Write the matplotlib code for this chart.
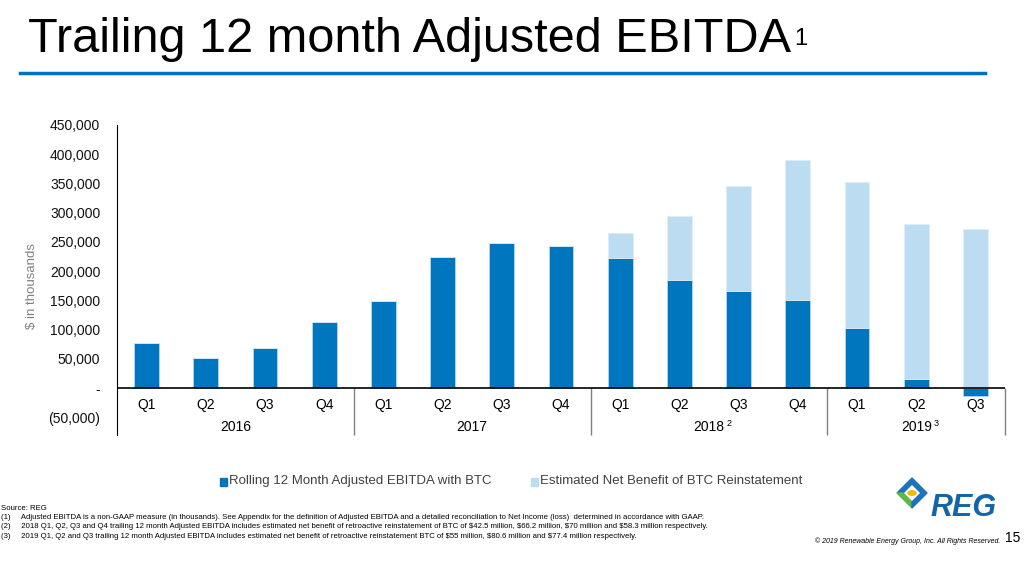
import numpy as np
import matplotlib.pyplot as plt
from matplotlib.patches import Polygon, Circle, Rectangle

plt.rcParams['font.family'] = ['Liberation Sans', 'DejaVu Sans']

# data (in thousands)
quarters = ["Q1", "Q2", "Q3", "Q4", "Q1", "Q2", "Q3", "Q4",
            "Q1", "Q2", "Q3", "Q4", "Q1", "Q2", "Q3"]
years = ["2016", "2017", "2018", "2019"]
year_notes = ["", "", "2", "3"]
year_sizes = [4, 4, 4, 3]
ebitda_btc = [77000, 51000, 68000, 113000, 149000, 224000, 248000, 243000,
              222000, 185000, 166000, 150000, 103000, 15000, -13000]
btc_benefit = [0, 0, 0, 0, 0, 0, 0, 0,
               43000, 109000, 180000, 240000, 250000, 266000, 272000]
yticks = list(range(-50000, 450001, 50000))

dark = "#0076BF"
light = "#BCDDF1"

fig = plt.figure(figsize=(10.25, 5.69), dpi=100)
ax = fig.add_axes([117/1025, 1-435/569, 888/1025, (435-125)/569])

x = np.arange(len(quarters))
ax.bar(x, ebitda_btc, width=0.42, color=dark, edgecolor=light, linewidth=0.5, zorder=2)
base = np.maximum(ebitda_btc, 0)
ax.bar(x, btc_benefit, bottom=base, width=0.42, color=light, edgecolor="#DDEEF8",
       linewidth=0.5, zorder=2)

ax.set_xlim(-0.5, len(quarters) - 0.5)
ax.set_ylim(-80000, 450000)
for s in ["top", "right", "bottom"]:
    ax.spines[s].set_visible(False)
ax.spines["left"].set_color("black")
ax.set_xticks([])
ax.set_yticks(yticks)

def fmt(v):
    if v == 0:
        return "-"
    if v < 0:
        return "({:,})".format(-v)
    return "{:,}".format(v)

ax.set_yticklabels([fmt(v) for v in yticks], fontsize=10, color="#111111")
ax.tick_params(axis="y", length=0, pad=12)
ax.set_ylabel("$ in thousands", fontsize=9.5, color="#7F7F7F")
ax.yaxis.set_label_coords(-0.089, 0.48)

ax.axhline(0, color="black", lw=1.2, zorder=3)

# multi-level category axis
for i, q in enumerate(quarters):
    ax.text(i, -29000, q, ha="center", va="center", fontsize=10)
start = 0
for yr, note, n in zip(years, year_notes, year_sizes):
    mid = start + (n - 1) / 2
    ax.text(mid, -66000, yr, ha="center", va="center", fontsize=10)
    if note:
        ax.text(mid + 0.29, -61000, note, ha="left", va="center", fontsize=6.5)
    start += n
    ax.vlines(start - 0.5, -80000, 0, color="#808080", lw=1, clip_on=False)

# title
title = fig.text(28/1025, 1-52/569, "Trailing 12 month Adjusted EBITDA", fontsize=35,
                 ha="left", va="baseline")
fig.canvas.draw()
bb = title.get_window_extent(fig.canvas.get_renderer())
fig.text(bb.x1/1025 + 3/1025, 1-45/569, "1", fontsize=17, ha="left", va="baseline")
fig.add_artist(plt.Line2D([20/1025, 985/1025], [1-73/569, 1-73/569],
                          color="#0070C0", lw=2.5))

# legend
fig.add_artist(Rectangle((220/1025, 1-486/569), 7/1025, 8/569, color=dark))
fig.text(229/1025, 1-481/569, "Rolling 12 Month Adjusted EBITDA with BTC",
         fontsize=9.5, color="#404040", va="center")
fig.add_artist(Rectangle((531/1025, 1-486/569), 7/1025, 8/569, color=light))
fig.text(540/1025, 1-481/569, "Estimated Net Benefit of BTC Reinstatement",
         fontsize=9.5, color="#404040", va="center")

# footnotes
notes = [
    "Source: REG",
    "(1)     Adjusted EBITDA is a non-GAAP measure (in thousands). See Appendix for the definition of Adjusted EBITDA and a detailed reconciliation to Net Income (loss)  determined in accordance with GAAP.",
    "(2)     2018 Q1, Q2, Q3 and Q4 trailing 12 month Adjusted EBITDA includes estimated net benefit of retroactive reinstatement of BTC of \\$42.5 million, \\$66.2 million, \\$70 million and \\$58.3 million respectively.",
    "(3)     2019 Q1, Q2 and Q3 trailing 12 month Adjusted EBITDA includes estimated net benefit of retroactive reinstatement BTC of \\$55 million, \\$80.6 million and \\$77.4 million respectively.",
]
for k, t in enumerate(notes):
    fig.text(1/1025, 1-(508 + k*9.5)/569, t, fontsize=5.6, va="center", ha="left")

fig.text(1000/1025, 1-541/569, "\u00a9 2019 Renewable Energy Group, Inc. All Rights Reserved.",
         fontsize=5.0, style="italic", ha="right", va="center")
fig.text(1020/1025, 1-538/569, "15", fontsize=10, ha="right", va="center")

# REG logo (simplified diamond ring + text)
def P(pts, c):
    fig.add_artist(Polygon([(px/1025, 1-py/569) for px, py in pts], closed=True,
                           color=c, transform=fig.transFigure))

cx, cy, r, t = 912, 493, 15, 6
P([(cx, cy-r), (cx+r, cy), (cx+r-t, cy), (cx, cy-r+t)], "#1C75BC")
P([(cx-r, cy), (cx, cy-r), (cx, cy-r+t), (cx-r+t, cy)], "#1C75BC")
P([(cx-r, cy), (cx, cy+r), (cx, cy+r-t), (cx-r+t, cy)], "#5DB845")
P([(cx, cy+r), (cx+r, cy), (cx+r-t, cy), (cx, cy+r-t)], "#1C75BC")
fig.add_artist(Circle((cx/1025, 1-cy/569), 4/1025, color="#F6B800",
                      transform=fig.transFigure))
fig.text(930/1025, 1-508/569, "REG", fontsize=22, weight="bold", style="italic",
         color="#1464A8", va="center", ha="left")

fig.savefig("out.png", dpi=100)
